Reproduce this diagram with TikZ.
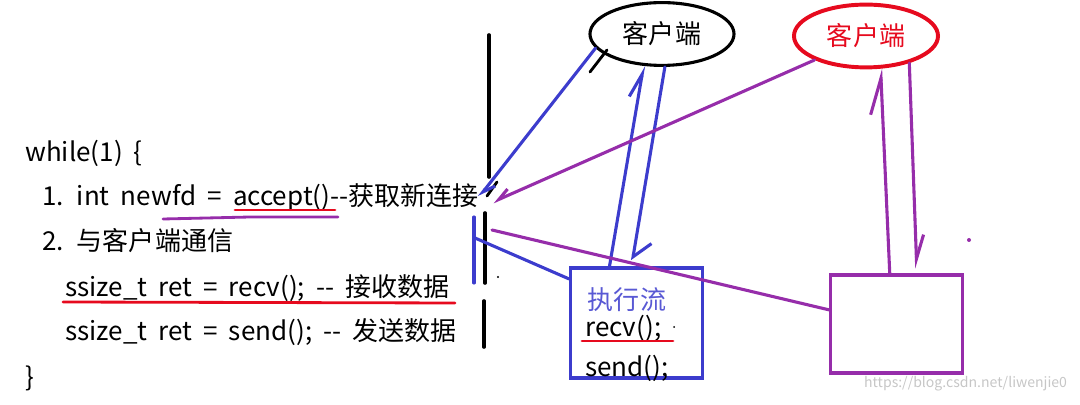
\documentclass[tikz,border=0pt]{standalone}
\usepackage{fontspec}
\setmainfont{Noto Sans CJK SC}[WordSpace={1.9}]
\usepackage{xcolor}
\usetikzlibrary{positioning,arrows.meta,calc,shapes.geometric}

\definecolor{penblue}{RGB}{60,60,205}
\definecolor{penpurple}{RGB}{150,45,170}
\definecolor{penred}{RGB}{230,10,30}

\begin{document}
\begin{tikzpicture}[x=0.025cm, y=-0.025cm,
  code/.style={anchor=base west, inner sep=0pt, font=\fontsize{18.5}{22}\selectfont},
  client/.style={ellipse, draw, line width=2.2pt, minimum width=3.6cm,
    minimum height=1.57cm, inner sep=0pt, font=\fontsize{18.5}{22}\selectfont},
  flowbox/.style={draw, line width=2.2pt, minimum width=3.3cm, inner sep=0pt},
  pen/.style={line width=2.2pt, line cap=round},
  wall/.style={line width=2.6pt, line cap=round, black},
  barb/.style={-{Straight Barb[harpoon, length=6mm, width=4.5mm]}},
  barbwide/.style={-{Straight Barb[harpoon, length=4mm, width=8mm]}}
]
  \useasboundingbox (0,0) rectangle (1080,405);

  % --- Code ---
  \node[code] (l0) at (25,162) {while(1) \{};
  \node[code] (l1) at (42,206) {1. int newfd = accept()-{}-获取新连接};
  \node[code] (l2) at (42,251) {2. 与客户端通信};
  \node[code] (l3) at (65,297) {ssize\_t ret = recv(); -{}- 接收数据};
  \node[code] (l4) at (65,341) {ssize\_t ret = send(); -{}- 发送数据};
  \node[code] (l5) at (25,387) {\}};

  % underlines
  \draw[pen, penpurple, line width=2pt] (163,219) -- (250,217) -- (338,217);
  \draw[pen, penred, line width=2pt] (235,210) -- (335,210);
  \draw[pen, penred, line width=2pt] (63,302) -- (455,303);

  % --- Mur ---
  \draw[wall] (489,35) -- (489,177);
  \draw[wall, line width=2pt] (497,182) -- (487,196);
  \draw[wall] (485,213) -- (485,283);
  \draw[wall] (484,301) -- (484,347);
  \fill (498,277) circle (1.2);
  \draw[pen, penblue] (474,217) -- (474,283);

  \coordinate (acceptIn) at (479,197);
  \coordinate (acceptPp) at (493,202);
  \coordinate (wallBlue) at (475,238);
  \coordinate (wallPp)   at (492,230);

  % --- Clients / execution ---
  \node[client] (c1) at (662,34) {客户端};
  \node[client, draw=penred, text=penred, line width=2.8pt] (c2) at (866,36) {客户端};

  \node[flowbox, draw=penblue, minimum height=2.75cm] (flow) at (636.5,323) {};
  \node[font=\fontsize{18.5}{22}\selectfont, text=penblue!85!white, inner sep=0pt]
    (flowtitle) at (627,300) {执行流};
  \node[code] (frecv) at (585,337) {recv();};
  \node[code] (fsend) at (585,377) {send();};
  \draw[pen, penred, line width=2pt] (582,341) -- (673,341);
  \fill (674,327) circle (1);

  \node[flowbox, draw=penpurple, minimum height=2.45cm] (box2) at (896.5,324) {};
  \fill[penpurple] (969,240) circle (2);

  % --- Fleches bleues ---
  \draw[pen, penblue, -{Straight Barb[harpoon, length=3mm, width=3mm]}] (c1.192) -- (acceptIn);
  \draw[wall, line width=2pt] (607,50) -- (590,72);
  \draw[pen, penblue, barb]
    ($(flow.north west)!0.3!(flow.north east)$) -- (c1.240);
  \draw[pen, penblue, barbwide]
    (c1.275) -- ($(flow.north west)!0.47!(flow.north east)+(0,-6)$);
  \draw[pen, penblue] ($(flow.north west)!0.11!(flow.south west)$) -- (wallBlue);

  % --- Fleches violettes ---
  \draw[pen, penpurple, -{Straight Barb[harpoon, swap, length=3mm, width=3mm]}]
    (c2.205) -- (acceptPp);
  \draw[pen, penpurple] (wallPp) -- ($(box2.north west)!0.36!(box2.south west)$);
  \draw[pen, penpurple, -{Straight Barb[harpoon, length=9mm, width=6mm]}]
    ($(box2.north west)!0.45!(box2.north east)$) -- (c2.294);
  \draw[pen, penpurple, -{Straight Barb[harpoon, length=6mm, width=4mm]}]
    (c2.328) -- ($(box2.north west)!0.65!(box2.north east)+(0,-5)$);

  \node[font=\fontsize{10}{12}\selectfont, text=gray!45, anchor=east] (mark)
    at (1072,384) {https://blog.csdn.net/liwenjie0};
\end{tikzpicture}
\end{document}
